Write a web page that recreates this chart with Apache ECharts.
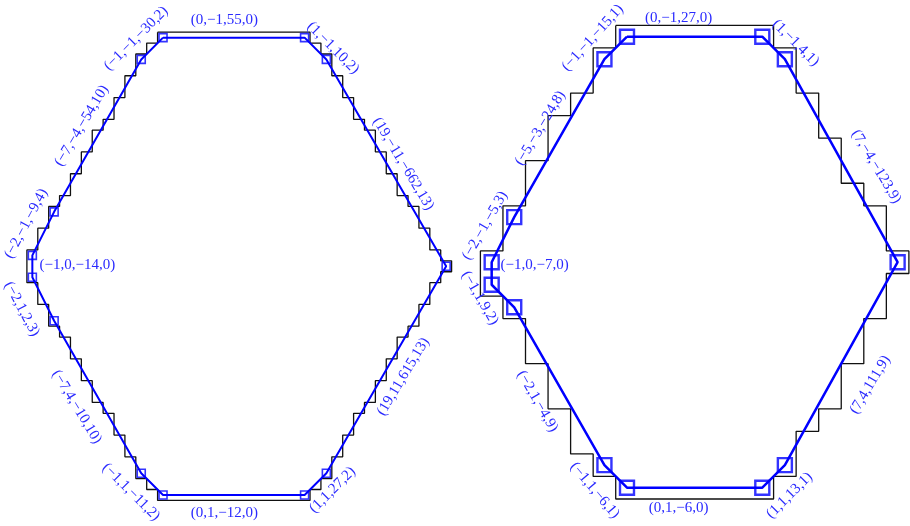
<!DOCTYPE html>
<html>
<head>
<meta charset="utf-8">
<script src="https://cdn.jsdelivr.net/npm/echarts@6/dist/echarts.min.js"></script>
<style>
  html, body { margin: 0; padding: 0; background: #ffffff; }
  #chart { width: 910px; height: 526px; }
</style>
</head>
<body>
<div id="chart"></div>
<script>
// ---- Fine digitisation (left figure) ----
// Polygon vertices in pixel-grid units, clockwise from the top-left corner.
const fineVertices = [[12,42],[25,42],[27,40],[38,21],[27,2],[25,0],[12,0],[10,2],[2,16],[0,20],[0,22],[2,26],[10,40]];
// Leftmost / rightmost pixel column of every row, row 0 at the bottom.
const fineRowMin = [12,11,10,10,9,9,8,8,7,6,6,5,5,4,4,3,2,2,1,1,0,0,0,1,1,2,2,3,4,4,5,5,6,6,7,8,8,9,9,10,10,11,12];
const fineRowMax = [25,26,27,27,28,28,29,29,30,31,31,32,32,33,33,34,35,35,36,36,37,38,37,36,36,35,35,34,33,33,32,32,31,31,30,29,29,28,28,27,27,26,25];
// Digital straight segment parameters, one per polygon edge (edge i joins vertex i and i+1).
const fineEdgeLabels = ['(0,\u22121,55,0)','(1,\u22121,10,2)','(19,\u221211,\u2212662,13)','(19,11,615,13)','(1,1,27,2)','(0,1,\u221212,0)','(\u22121,1,\u221211,2)','(\u22127,4,\u221210,10)','(\u22122,1,2,3)','(\u22121,0,\u221214,0)','(\u22122,\u22121,\u22129,4)','(\u22127,\u22124,\u221254,10)','(\u22121,\u22121,\u221230,2)'];

// ---- Coarse digitisation (right figure) ----
const coarseVertices = [[6,20],[12,20],[13,19],[18,10],[13,1],[12,0],[6,0],[5,1],[1,8],[0,9],[0,10],[1,12],[5,19]];
const coarseRowMin = [6,5,4,4,3,3,2,2,1,0,0,1,1,2,2,3,3,4,5,5,6];
const coarseRowMax = [12,13,13,14,15,15,16,16,17,17,18,17,17,16,15,15,14,14,13,13,12];
const coarseEdgeLabels = ['(0,\u22121,27,0)','(1,\u22121,4,1)','(7,\u22124,\u2212123,9)','(7,4,111,9)','(1,1,13,1)','(0,1,\u22126,0)','(\u22121,1,\u22126,1)','(\u22122,1,\u22124,9)','(\u22121,1,9,2)','(\u22121,0,\u22127,0)','(\u22122,\u22121,\u22125,3)','(\u22125,\u22123,\u221224,8)','(\u22121,\u22121,\u221215,1)'];

// Label placement relative to the edge midpoint: [dx px, dy px, rotation deg (ccw)]
const fineLabelLayout = [
  [-9.5,-17.5,0],[17.5,-0.5,-45],[17,1,-59],[17,7,59],[17,6,45],[-9.5,18,0],
  [-21,8,-45],[-21,10,-59],[-21.5,10,-62],[45,-1,0],[-17,-10,62],[-16,-10,59],[-16,-10,45]
];
const coarseLabelLayout = [
  [-16,-19,0],[22,-5,-45],[35,6,-59],[29,21,59],[16,19,45],[-16,20,0],
  [-21,14,-50],[-22,15,-60],[-23,2,-60],[43,-8,0],[-18,-14,60],[-19,-10,59],[-23,-10,48]
];

// Boundary of the union of unit pixels, walked clockwise from the top-left.
function pixelOutline(rowMin, rowMax) {
  const top = rowMin.length - 1;
  const pts = [[rowMin[top] - 0.5, top + 0.5]];
  for (let y = top; y >= 0; y--) {
    pts.push([rowMax[y] + 0.5, y + 0.5]);
    pts.push([rowMax[y] + 0.5, y - 0.5]);
  }
  for (let y = 0; y <= top; y++) {
    pts.push([rowMin[y] - 0.5, y - 0.5]);
    pts.push([rowMin[y] - 0.5, y + 0.5]);
  }
  return pts;
}

const BLUE = '#0000ff';
const TEXT_BLUE = '#2a2aff';

function figureSeries(idx, vertices, rowMin, rowMax, lineW, markSize, markW) {
  return [
    {
      type: 'line', xAxisIndex: idx, yAxisIndex: idx,
      data: pixelOutline(rowMin, rowMax),
      symbol: 'none', clip: false, silent: true,
      lineStyle: { color: '#111111', width: 1.3 },
      z: 2
    },
    {
      type: 'line', xAxisIndex: idx, yAxisIndex: idx,
      data: vertices.concat([vertices[0]]),
      symbol: 'none', clip: false, silent: true,
      lineStyle: { color: BLUE, width: lineW },
      z: 3
    },
    {
      type: 'scatter', xAxisIndex: idx, yAxisIndex: idx,
      data: vertices,
      symbol: 'rect', symbolSize: markSize, clip: false, silent: true,
      itemStyle: { color: 'rgba(0,0,0,0)', borderColor: BLUE, borderWidth: markW },
      z: 4
    }
  ];
}

const chart = echarts.init(document.getElementById('chart'), null, { renderer: 'canvas' });

chart.setOption({
  backgroundColor: '#ffffff',
  animation: false,
  grid: [
    { left: 26.9, top: 32.2, width: 424.7, height: 468.2 },
    { left: 480.4, top: 25.4, width: 428.5, height: 473.6 }
  ],
  xAxis: [
    { type: 'value', gridIndex: 0, min: -0.5, max: 38.5, show: false },
    { type: 'value', gridIndex: 1, min: -0.5, max: 18.5, show: false }
  ],
  yAxis: [
    { type: 'value', gridIndex: 0, min: -0.5, max: 42.5, show: false },
    { type: 'value', gridIndex: 1, min: -0.5, max: 20.5, show: false }
  ],
  series: [].concat(
    figureSeries(0, fineVertices, fineRowMin, fineRowMax, 2, 8, 1.6),
    figureSeries(1, coarseVertices, coarseRowMin, coarseRowMax, 2.5, 14, 2.4)
  )
});

// Edge labels, anchored to each edge midpoint through the axes.
function edgeTexts(gridIndex, vertices, labels, layout) {
  return labels.map((txt, i) => {
    const a = vertices[i];
    const b = vertices[(i + 1) % vertices.length];
    const mid = [(a[0] + b[0]) / 2, (a[1] + b[1]) / 2];
    const p = chart.convertToPixel({ gridIndex: gridIndex }, mid);
    const l = layout[i];
    return {
      type: 'text',
      x: p[0] + l[0],
      y: p[1] + l[1],
      rotation: l[2] * Math.PI / 180,
      silent: true,
      z: 10,
      style: {
        text: txt,
        fill: TEXT_BLUE,
        font: '15px "Liberation Serif", "DejaVu Serif", serif',
        textAlign: 'center',
        textVerticalAlign: 'middle'
      }
    };
  });
}

chart.setOption({
  graphic: [].concat(
    edgeTexts(0, fineVertices, fineEdgeLabels, fineLabelLayout),
    edgeTexts(1, coarseVertices, coarseEdgeLabels, coarseLabelLayout)
  )
});
</script>
</body>
</html>
